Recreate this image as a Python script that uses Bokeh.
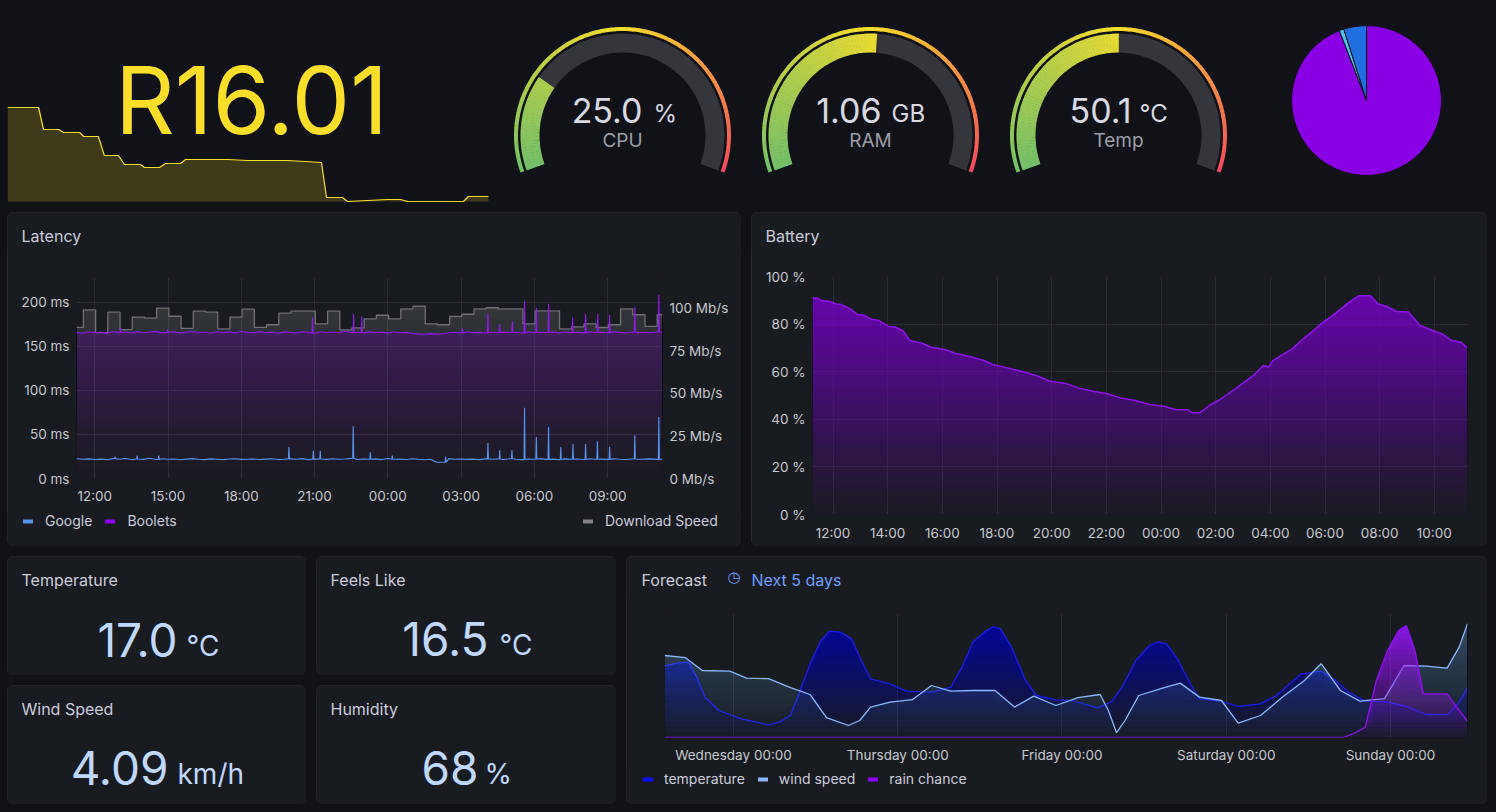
import numpy as np
import pandas as pd
from bokeh.plotting import figure
from bokeh.layouts import row, column
from bokeh.models import (Range1d, LinearAxis, FixedTicker, PrintfTickFormatter, Spacer,
                          DatetimeTickFormatter, Label, Legend, GlobalInlineStyleSheet)
from bokeh.embed import file_html
from bokeh.resources import INLINE

# ============================ DATA ============================
# top-left stat: price sparkline (minutes into the 24 h window, rand)
price_minutes = [0, 93, 108, 153, 168, 216, 228, 272, 290, 332, 350, 398, 410, 455, 473, 518,
                 533, 659, 719, 838, 892, 940, 955, 1003, 1018, 1078, 1138, 1177, 1198, 1365, 1380, 1440]
price_values = [20.46, 20.46, 19.36, 19.36, 19.21, 19.21, 19.01, 19.01, 18.06, 18.06, 17.61, 17.61,
                17.46, 17.46, 17.66, 17.66, 17.86, 17.86, 17.81, 17.81, 17.76, 17.71, 15.96, 15.96,
                15.76, 15.81, 15.86, 15.86, 15.76, 15.76, 16.01, 16.01]

# gauges
gauge_labels = ["CPU", "RAM", "Temp"]
gauge_values = [25.0, 1.06, 50.1]
gauge_max = [100.0, 2.05, 100.0]
gauge_units = ["%", "GB", "°C"]
gauge_decimals = [1, 2, 1]

# pie
pie_labels = ["Boolets", "Cloudflare", "Google"]
pie_values = [94.1, 1.0, 4.9]

# latency panel (24 h window)
window_start = "2024-05-13 11:15"
google_ms = [22.5, 21.8, 22.3, 21.6, 22.0, 21.4, 22.6, 21.9, 22.8, 21.5, 22.1, 21.7,
             23.0, 21.6, 22.4, 21.9, 22.2, 21.3, 22.0, 22.6, 21.8, 21.5, 22.3, 21.9,
             21.4, 22.1, 22.5, 21.7, 21.9, 22.2, 21.6, 22.0, 22.4, 21.5, 21.8, 22.3,
             21.9, 22.6, 21.4, 22.0, 22.2, 21.7, 22.5, 21.8, 22.1, 22.9, 21.6, 22.0,
             21.8, 22.3, 21.5, 22.7, 21.9, 22.0, 21.6, 22.4, 21.8, 21.3, 21.9, 18.5,
             18.4, 22.6, 21.9, 22.2, 21.7, 22.0, 21.5, 22.3, 21.8, 22.1, 21.6, 22.4,
             21.9, 21.5, 22.2, 21.8, 22.6, 21.7, 22.0, 21.5, 22.3, 21.9, 22.1, 21.6,
             22.4, 21.8, 22.0, 21.7, 22.5, 21.9, 21.6, 22.2, 21.8, 22.0, 22.3, 21.7,
             21.9]
boolets_ms = [166.2, 165.1, 166.8, 165.6, 166.4, 164.9, 167.0, 165.8, 166.5, 165.3, 166.9, 165.7,
              166.3, 167.2, 165.5, 166.0, 166.8, 165.2, 166.5, 167.1, 165.9, 166.4, 165.0, 166.7,
              165.8, 166.6, 165.3, 167.0, 166.1, 165.5, 166.9, 165.7, 166.3, 165.1, 166.6, 166.0,
              165.4, 166.8, 166.2, 165.0, 166.7, 165.9, 166.4, 165.6, 167.3, 165.8, 166.1, 165.5,
              166.6, 165.9, 166.3, 165.2, 166.8, 165.7, 166.0, 164.8, 164.3, 163.9, 164.6, 164.1,
              164.4, 165.6, 166.2, 165.3, 166.7, 165.8, 166.0, 165.4, 166.5, 165.7, 166.3, 165.9,
              166.1, 165.4, 166.8, 165.6, 166.2, 165.9, 166.6, 165.3, 166.4, 165.8, 166.1, 165.5,
              166.7, 165.9, 166.3, 165.6, 166.8, 166.0, 165.4, 166.5, 165.8, 166.2, 165.7, 166.4,
              166.0]
google_spike_min = [95, 149, 202, 522, 582, 599, 680, 722, 776, 907, 1011, 1040, 1070, 1101, 1130,
                    1160, 1190, 1220, 1251, 1280, 1310, 1372, 1431]
google_spike_ms = [24.7, 26.0, 26.0, 35.8, 31.6, 31.6, 59.4, 29.7, 26.0, 25.0, 40.4, 32.0, 32.0, 80.4,
                   47.2, 58.6, 35.8, 39.2, 39.2, 42.3, 35.8, 49.1, 70.0]
boolets_spike_min = [108, 224, 580, 681, 701, 948, 1011, 1040, 1071, 1101, 1130, 1160, 1219, 1251,
                     1281, 1310, 1372, 1431]
boolets_spike_ms = [171.0, 169.5, 183.0, 187.0, 184.0, 170.6, 188.0, 175.6, 179.0, 202.0, 194.0,
                    198.5, 183.0, 187.0, 187.0, 186.0, 194.6, 208.8]
download_min = [0] + list(range(17, 1440, 30))
download_mbps = [88.9, 99.2, 85.8, 97.8, 87.6, 94.9, 94.3, 100.2, 95.4, 88.3,
                 98.4, 97.8, 88.0, 94.9, 99.6, 88.9, 90.4, 97.2, 98.4, 98.4,
                 90.9, 98.4, 87.4, 88.6, 93.9, 96.0, 93.9, 99.8, 101.4, 90.9,
                 90.4, 95.3, 96.6, 99.8, 100.4, 99.8, 99.8, 90.9, 98.6, 98.6,
                 88.0, 89.2, 90.9, 88.8, 90.4, 99.8, 96.3, 89.5, 96.3]

# battery
battery_min = [0, 10, 20, 36, 52, 63, 83, 99, 114, 130, 146, 167, 182, 198, 214, 240, 261, 292, 313,
               345, 376, 397, 428, 460, 491, 522, 559, 585, 616, 647, 678, 709, 740, 771, 797, 824,
               834, 850, 871, 891, 907, 928, 948, 970, 990, 1001, 1011, 1032, 1053, 1073, 1095, 1116,
               1137, 1157, 1178, 1199, 1225, 1241, 1261, 1282, 1308, 1334, 1361, 1382, 1403, 1424, 1437]
battery_pct = [91.0, 91.0, 89.9, 89.6, 88.5, 88.2, 86.4, 84.0, 83.6, 82.0, 81.5, 79.0, 78.7, 77.3,
               73.1, 72.0, 70.3, 69.2, 67.8, 66.4, 64.7, 62.9, 61.6, 60.1, 58.4, 56.0, 54.9, 53.1,
               51.8, 50.7, 48.9, 47.9, 46.2, 45.5, 44.1, 44.0, 42.7, 42.7, 45.8, 47.9, 50.0, 52.8,
               55.6, 58.8, 62.6, 61.9, 64.7, 67.2, 69.6, 73.1, 76.6, 80.1, 82.9, 86.0, 89.2, 91.9,
               91.9, 88.5, 87.4, 85.3, 85.1, 79.4, 77.3, 75.9, 73.1, 72.4, 70.0]

# forecast (hours relative to Wednesday 00:00)
forecast_origin = "2024-05-15 00:00"
temp_h = [-10.04, -8.18, -6.58, -5.36, -4.15, -2.13, 1.10, 5.11, 6.72, 8.33, 9.57, 11.19, 12.80,
          14.03, 15.63, 17.24, 18.45, 20.02, 22.90, 25.28, 28.93, 31.76, 33.39, 34.99, 36.62, 37.99,
          39.01, 40.62, 42.67, 44.27, 47.11, 49.53, 53.19, 55.19, 56.79, 58.81, 60.78, 62.04, 63.27,
          64.87, 66.48, 68.09, 71.30, 73.74, 77.0, 79.34, 81.82, 82.99, 85.86, 87.87, 89.86, 92.31,
          95.56, 98.33, 101.2, 104.43, 106.03, 107.25]
temp_c = [14.56, 14.96, 15.04, 13.24, 10.84, 9.24, 8.24, 7.52, 7.84, 8.64, 11.24, 14.84, 17.64,
          18.76, 18.64, 17.84, 15.64, 13.04, 12.44, 11.56, 11.44, 12.04, 14.44, 17.44, 18.64, 19.32,
          19.04, 16.84, 12.84, 11.04, 10.52, 10.44, 9.56, 10.24, 12.04, 15.24, 17.04, 17.48, 17.24,
          15.44, 12.84, 10.64, 10.36, 9.72, 10.04, 11.04, 12.84, 13.64, 13.96, 12.92, 11.44, 10.36,
          10.24, 9.72, 8.76, 8.76, 10.24, 11.96]
wind_h = [-10.04, -7.01, -4.56, -0.53, 1.90, 5.11, 8.33, 11.19, 13.59, 16.80, 18.45, 20.02, 22.90,
          26.13, 28.93, 31.76, 34.99, 38.22, 41.06, 43.88, 47.11, 50.34, 53.57, 54.78, 55.97, 57.21,
          59.22, 62.45, 65.27, 68.09, 71.30, 73.74, 77.0, 80.22, 83.43, 85.86, 88.69, 91.51, 95.12,
          97.97, 101.2, 104.27, 106.03, 107.25]
wind_kmh = [4.10, 3.99, 3.35, 3.32, 2.97, 2.94, 2.49, 2.15, 0.99, 0.60, 0.85, 1.52, 1.77, 1.89,
            2.60, 2.32, 2.35, 2.35, 1.52, 2.07, 1.60, 1.99, 2.15, 1.35, 0.24, 0.85, 2.10, 2.44,
            2.72, 2.02, 1.85, 0.72, 1.10, 2.02, 2.85, 3.69, 2.35, 1.82, 1.94, 3.60, 3.57, 3.47,
            4.52, 5.69]
rain_h = [-10.04, 89.09, 90.71, 92.31, 93.94, 95.56, 97.17, 98.33, 99.57, 100.79, 102.41, 104.27,
          106.03, 107.25]
rain_pct = [0, 0, 3.8, 9.2, 50.9, 77.7, 95.5, 100.0, 77.7, 39.0, 39.0, 39.0, 24.1, 14.6]

# current-conditions stats
stat_titles = ["Temperature", "Feels Like", "Wind Speed", "Humidity"]
stat_values = ["17.0", "16.5", "4.09", "68"]
stat_units = ["°C", "°C", "km/h", "%"]

# ============================ STYLE ============================
BG = "#111217"
PANEL = "#181b1f"
GRID = "#2a2c31"
TXT = "#ccccdc"
TICK = "#c7c8d0"
FONT = "Inter"
TITLE_PX = 16
TICK_PX = "13.5px"
LEG_PX = "14px"
PANEL_STYLE = {"outline": "1px solid #2a2d33", "outline-offset": "-1px",
               "border-radius": "6px", "overflow": "hidden", "background-color": PANEL}
PURPLE = "#8f00ff"
MINMS = 60000.0
HMS = 3600000.0
BASE_K = 0.36   # correction: renderer places alphabetic labels ~0.36 em low


def make_fig(w, h, xr=None, yr=None, mb=(0, 0, 0, 0), bg=PANEL, panel=False, **kw):
    if xr is None:
        xr = Range1d(0, 1)
    if yr is None:
        yr = Range1d(0, 1)
    p = figure(width=w, height=h, x_range=xr, y_range=yr, toolbar_location=None,
               output_backend="svg", **kw)
    try:
        p.frame_align = False
    except Exception:
        pass
    p.min_border_left, p.min_border_right, p.min_border_top, p.min_border_bottom = mb
    p.background_fill_color = bg
    p.border_fill_color = bg
    p.outline_line_color = None
    if panel:
        p.styles = dict(PANEL_STYLE)
    l, r, t, b = mb
    p.extra_x_ranges = {"cx": Range1d(l, w - r)}
    p.extra_y_ranges = {"cy": Range1d(h - b, t)}
    return p


def blank(w, h, **kw):
    return make_fig(w, h, x_axis_type=None, y_axis_type=None, **kw)


def label(p, x, y, text, size, color, align="left", font=FONT, baseline="alphabetic"):
    if baseline == "alphabetic":
        y = y - BASE_K * size
    p.add_layout(Label(x=x, y=y, x_range_name="cx", y_range_name="cy", text=text,
                       text_font=font, text_font_size=f"{size}px", text_color=color,
                       text_align=align, text_baseline=baseline))


def style_axis(ax, standoff):
    ax.axis_line_color = None
    ax.major_tick_line_color = None
    ax.minor_tick_line_color = None
    ax.major_tick_in = 0
    ax.major_tick_out = 0
    ax.major_label_text_color = TICK
    ax.major_label_text_font = FONT
    ax.major_label_text_font_size = TICK_PX
    ax.major_label_standoff = standoff


def grad_fill(p, x, y, bottom, top, color, op, n=24, **kw):
    y = np.asarray(y, float)
    prev = 0.0
    for k in range(1, n + 1):
        cum = op * k / n
        a = 1 - (1 - cum) / (1 - prev)
        prev = cum
        lo = bottom + (top - bottom) * (k - 1) / n
        p.varea(x=x, y1=np.minimum(y, lo), y2=y, fill_color=color, fill_alpha=a, **kw)


def step_xy(t, v, t_end):
    xs, ys = [], []
    for i in range(len(t)):
        t_next = t[i + 1] if i + 1 < len(t) else t_end
        xs += [t[i], t_next]
        ys += [v[i], v[i]]
    return xs, ys


def with_spikes(base_t, base_v, sp_t, sp_v):
    bt = np.asarray(base_t, float)
    bv = np.asarray(base_v, float)
    t = list(bt)
    v = list(bv)
    for st, sv in zip(sp_t, sp_v):
        nb = bv[np.argmin(np.abs(bt - st))]
        t += [st - 1.2, st, st + 1.2]
        v += [nb, sv, nb]
    o = np.argsort(t, kind="stable")
    return np.asarray(t)[o], np.asarray(v)[o]


def add_legend(p, entries, loc, spacing, standoff):
    items = []
    for name, color in entries:
        # legend proxy drawn outside the visible range of the strip
        r = p.line(x=[-5, -4], y=[-5, -5], line_color=color, line_width=4, line_cap="round")
        items.append((name, [r]))
    lg = Legend(items=items, location=loc, orientation="horizontal",
                label_text_font=FONT, label_text_font_size=LEG_PX, label_text_color=TXT,
                glyph_width=10, glyph_height=14, label_height=14, label_standoff=standoff,
                spacing=spacing, padding=0, margin=0, border_line_color=None,
                background_fill_alpha=0)
    p.add_layout(lg)


def ms_of(ts):
    return pd.Timestamp(ts).value / 1e6


def hm_fmt(f):
    return DatetimeTickFormatter(milliseconds=f, seconds=f, minsec=f, minutes=f, hourmin=f,
                                 hours=f, days=f, months=f, years=f)


def panel(*children):
    return column(*children, spacing=0, styles=dict(PANEL_STYLE))


# ramp green -> yellow -> red (continuous GrYlRd)
STOPS = [(0x73, 0xbf, 0x69), (0xfa, 0xde, 0x2a), (0xf2, 0x49, 0x5c)]


def ramp(f):
    f = min(max(f, 0.0), 1.0)
    if f <= 0.5:
        a, b, u = STOPS[0], STOPS[1], f / 0.5
    else:
        a, b, u = STOPS[1], STOPS[2], (f - 0.5) / 0.5
    return "#%02x%02x%02x" % tuple(int(round(a[i] + (b[i] - a[i]) * u)) for i in range(3))


# ============================ ROW 1 ============================
H1 = 202
W0 = 490
t_end = price_minutes[-1] * W0 / (W0 - 9)
vmin, vmax = min(price_values), max(price_values)
sc = (vmax - vmin) / 94.0
y0 = vmin - 1 * sc
sp = make_fig(W0, H1, Range1d(0, t_end), Range1d(y0, y0 + H1 * sc), bg=BG,
              x_axis_type=None, y_axis_type=None)
sp.varea(x=price_minutes, y1=vmin, y2=price_values, fill_color="#fade2a", fill_alpha=0.2)
sp.line(price_minutes, price_values, line_color="#fade2a", line_width=1.2)
label(sp, 244, 133, f"R{price_values[-1]:.2f}", 93, "#fade2a", align="center")

A0, SPAN = 200.0, 220.0
val_dx = [20, 11, 13]
unit_dx = [31, 21, 21]
gauges = []
for i in range(3):
    GW = 248
    g = make_fig(GW, H1, Range1d(-125, 123), Range1d(-67, 135), bg=BG,
                 x_axis_type=None, y_axis_type=None)
    f = gauge_values[i] / gauge_max[i]
    # threshold band
    n = 110
    e = np.linspace(0, 1, n + 1)
    st = A0 - SPAN * e[1:] - 0.3
    st[-1] = A0 - SPAN
    en = A0 - SPAN * e[:-1]
    cols = [ramp((e[k] + e[k + 1]) / 2) for k in range(n)]
    g.annular_wedge(x=0, y=0, inner_radius=104.5, outer_radius=108.5,
                    start_angle=np.radians(st), end_angle=np.radians(en),
                    fill_color=cols, line_color=None)
    # unfilled part
    g.annular_wedge(x=0, y=0, inner_radius=83, outer_radius=102,
                    start_angle=np.radians(A0 - SPAN), end_angle=np.radians(A0 - SPAN * f),
                    fill_color="#35363b", line_color=None)
    # filled part
    m = max(2, int(f * 120))
    e2 = np.linspace(0, f, m + 1)
    st2 = A0 - SPAN * e2[1:] - 0.3
    st2[-1] = A0 - SPAN * f
    en2 = A0 - SPAN * e2[:-1]
    cols2 = [ramp(0.85 * (e2[k] + e2[k + 1]) / 2) for k in range(m)]
    g.annular_wedge(x=0, y=0, inner_radius=83, outer_radius=102,
                    start_angle=np.radians(st2), end_angle=np.radians(en2),
                    fill_color=cols2, line_color=None)
    txt = f"{gauge_values[i]:.{gauge_decimals[i]}f}"
    label(g, 125 + val_dx[i], 122, txt, 34, "#d8d9e2", align="right")
    label(g, 125 + unit_dx[i], 122, gauge_units[i], 24, "#d8d9e2", align="left")
    label(g, 125, 147, gauge_labels[i], 19, "#9c9ea8", align="center")
    gauges.append(g)

PW = 246
pie = make_fig(PW, H1, Range1d(-125, 121), Range1d(-102, 100), bg=BG,
               x_axis_type=None, y_axis_type=None)
pie_colors = ["#8a00e4", "#4fc3f0", "#1f6fe0"]
cum = np.concatenate([[0], np.cumsum(pie_values)]) / sum(pie_values)
pie.wedge(x=0, y=0, radius=75,
          start_angle=np.radians(90 - 360 * cum[1:]), end_angle=np.radians(90 - 360 * cum[:-1]),
          fill_color=pie_colors, line_color="#111217", line_width=1)

row1 = row(sp, *gauges, pie, spacing=0)

# ============================ LATENCY ============================
LW = 734
t0 = ms_of(window_start)
lat_head = blank(LW, 40)
label(lat_head, 14, 29, "Latency", TITLE_PX, TXT)

lat = make_fig(LW, 260, Range1d(t0, t0 + 1440 * MINMS), Range1d(0, 228.4), mb=(69, 79, 25, 34),
               x_axis_type="datetime")
lat.extra_y_ranges["mbps"] = Range1d(0, 118.2)
rax = LinearAxis(y_range_name="mbps")
lat.add_layout(rax, "right")
lat_xt = FixedTicker(ticks=list(pd.date_range("2024-05-13 12:00", periods=8, freq="3h").astype("int64") / 1e6))
lat.xaxis.ticker = lat_xt
lat.xgrid.ticker = lat_xt
lat.xaxis.formatter = hm_fmt("%H:%M")
lyt = FixedTicker(ticks=[0, 50, 100, 150, 200])
lat.yaxis[0].ticker = lyt
lat.ygrid.ticker = lyt
lat.yaxis[0].formatter = PrintfTickFormatter(format="%d ms")
rax.ticker = FixedTicker(ticks=[0, 25, 50, 75, 100])
rax.formatter = PrintfTickFormatter(format="%d Mb/s")
style_axis(lat.xaxis[0], 9)
style_axis(lat.yaxis[0], 7)
style_axis(rax, 7)
lat.xgrid.grid_line_color = GRID
lat.ygrid.grid_line_color = GRID

base_min = np.arange(0, 1441, 15)
gt, gv = with_spikes(base_min, google_ms, google_spike_min, google_spike_ms)
bt, bv = with_spikes(base_min, boolets_ms, boolets_spike_min, boolets_spike_ms)
dxs, dys = step_xy(download_min, download_mbps, 1440)
dxs = t0 + np.asarray(dxs) * MINMS
grad_fill(lat, dxs, dys, 0, 118.2, "#8a8a90", 0.34, y_range_name="mbps")
grad_fill(lat, t0 + bt * MINMS, bv, 0, 228.4, PURPLE, 0.30)
lat.line(dxs, dys, line_color="#707076", line_width=1.3, y_range_name="mbps")
lat.line(t0 + bt * MINMS, bv, line_color="#9218f2", line_width=1.1)
lat.line(t0 + gt * MINMS, gv, line_color="#5794f2", line_width=1.1)

lat_leg = blank(LW, 34)
add_legend(lat_leg, [("Google", "#5794f2"), ("Boolets", PURPLE)], (16, 17), 13, 12)
add_legend(lat_leg, [("Download Speed", "#808086")], (576, 17), 13, 12)
lat_panel = panel(lat_head, lat, lat_leg)

# ============================ BATTERY ============================
BW = 736
bat_head = blank(BW, 40)
label(bat_head, 14, 29, "Battery", TITLE_PX, TXT)
bat = make_fig(BW, 294, Range1d(t0, t0 + 1440 * MINMS), Range1d(0, 100), mb=(61, 19, 24, 32),
               x_axis_type="datetime")
bat_xt = FixedTicker(ticks=list(pd.date_range("2024-05-13 12:00", periods=12, freq="2h").astype("int64") / 1e6))
bat.xaxis.ticker = bat_xt
bat.xgrid.ticker = bat_xt
bat.xaxis.formatter = hm_fmt("%H:%M")
byt = FixedTicker(ticks=[0, 20, 40, 60, 80, 100])
bat.yaxis.ticker = byt
bat.ygrid.ticker = byt
bat.yaxis.formatter = PrintfTickFormatter(format="%d %%")
style_axis(bat.xaxis[0], 10)
style_axis(bat.yaxis[0], 7)
bat.xgrid.grid_line_color = GRID
bat.ygrid.grid_line_color = GRID
bx = t0 + np.asarray(battery_min) * MINMS
grad_fill(bat, bx, battery_pct, 0, 100, "#8c00e6", 0.78)
bat.line(bx, battery_pct, line_color="#8f12ee", line_width=1.5)
bat_panel = panel(bat_head, bat)

row2 = row(lat_panel, bat_panel, spacing=10)

# ============================ STAT PANELS ============================
stat_layout = [(299, 170, 179, 100), (300, 172, 183, 99), (299, 161, 170, 99), (300, 162, 168, 99)]
stat_figs = []
for i in range(4):
    w, vx, ux, by = stat_layout[i]
    s = blank(w, 119, panel=True)
    label(s, 14, 29, stat_titles[i], TITLE_PX, TXT)
    label(s, vx, by, stat_values[i], 46, "#c0d8ff", align="right")
    label(s, ux, by, stat_units[i], 28, "#c0d8ff", align="left")
    stat_figs.append(s)

# ============================ FORECAST ============================
FW = 861
f0 = ms_of(forecast_origin)
fc_head = blank(FW, 40)
label(fc_head, 15, 29, "Forecast", TITLE_PX, TXT)
label(fc_head, 107.5, 20, "◷", 15, "#6e9fff", align="center", font="DejaVu Sans", baseline="middle")
label(fc_head, 125, 29, "Next 5 days", TITLE_PX, "#6e9fff")

fc = make_fig(FW, 170, Range1d(f0 - 10.08 * HMS, f0 + 107.25 * HMS), Range1d(0, 1), mb=(38, 20, 17, 29),
              x_axis_type="datetime", y_axis_type=None)
fc.extra_y_ranges["temp"] = Range1d(6, 20.88)
fc.extra_y_ranges["wind"] = Range1d(0, 6.2)
fc.extra_y_ranges["rain"] = Range1d(0, 110.7)
fc_xt = FixedTicker(ticks=list(pd.date_range(forecast_origin, periods=5, freq="1D").astype("int64") / 1e6))
fc.xaxis.ticker = fc_xt
fc.xgrid.ticker = fc_xt
fc.xaxis.formatter = hm_fmt("%A %H:%M")
style_axis(fc.xaxis[0], 9)
fc.xgrid.grid_line_color = GRID
tx = f0 + np.asarray(temp_h) * HMS
wx = f0 + np.asarray(wind_h) * HMS
rx = f0 + np.asarray(rain_h) * HMS
grad_fill(fc, tx, temp_c, 6, 20.88, "#0000ff", 0.62, y_range_name="temp")
fc.line(tx, temp_c, line_color="#1c1cf0", line_width=1.3, y_range_name="temp")
grad_fill(fc, wx, wind_kmh, 0, 6.2, "#8ab8ff", 0.35, y_range_name="wind")
fc.line(wx, wind_kmh, line_color="#8ab8ff", line_width=1.3, y_range_name="wind")
grad_fill(fc, rx, rain_pct, 0, 110.7, "#9b1cff", 0.95, y_range_name="rain")
fc.line(rx, rain_pct, line_color="#9010f0", line_width=1.3, y_range_name="rain")

fc_leg = blank(FW, 38)
add_legend(fc_leg, [("temperature", "#0a0aff"), ("wind speed", "#8ab8ff"), ("rain chance", PURPLE)],
           (17, 17), 13, 11)
fc_panel = panel(fc_head, fc, fc_leg)

left = column(row(stat_figs[0], stat_figs[1], spacing=10),
              row(stat_figs[2], stat_figs[3], spacing=10), spacing=10)
row3 = row(left, fc_panel, spacing=10)

main = column(row1, row2, row3, spacing=10)
root = row(Spacer(width=7, height=10), main, spacing=0, styles={"background-color": BG},
           stylesheets=[GlobalInlineStyleSheet(css="html, body { background-color: #111217; }")])

open("out.html", "w", encoding="utf-8").write(file_html(root, INLINE, "Dashboard"))
